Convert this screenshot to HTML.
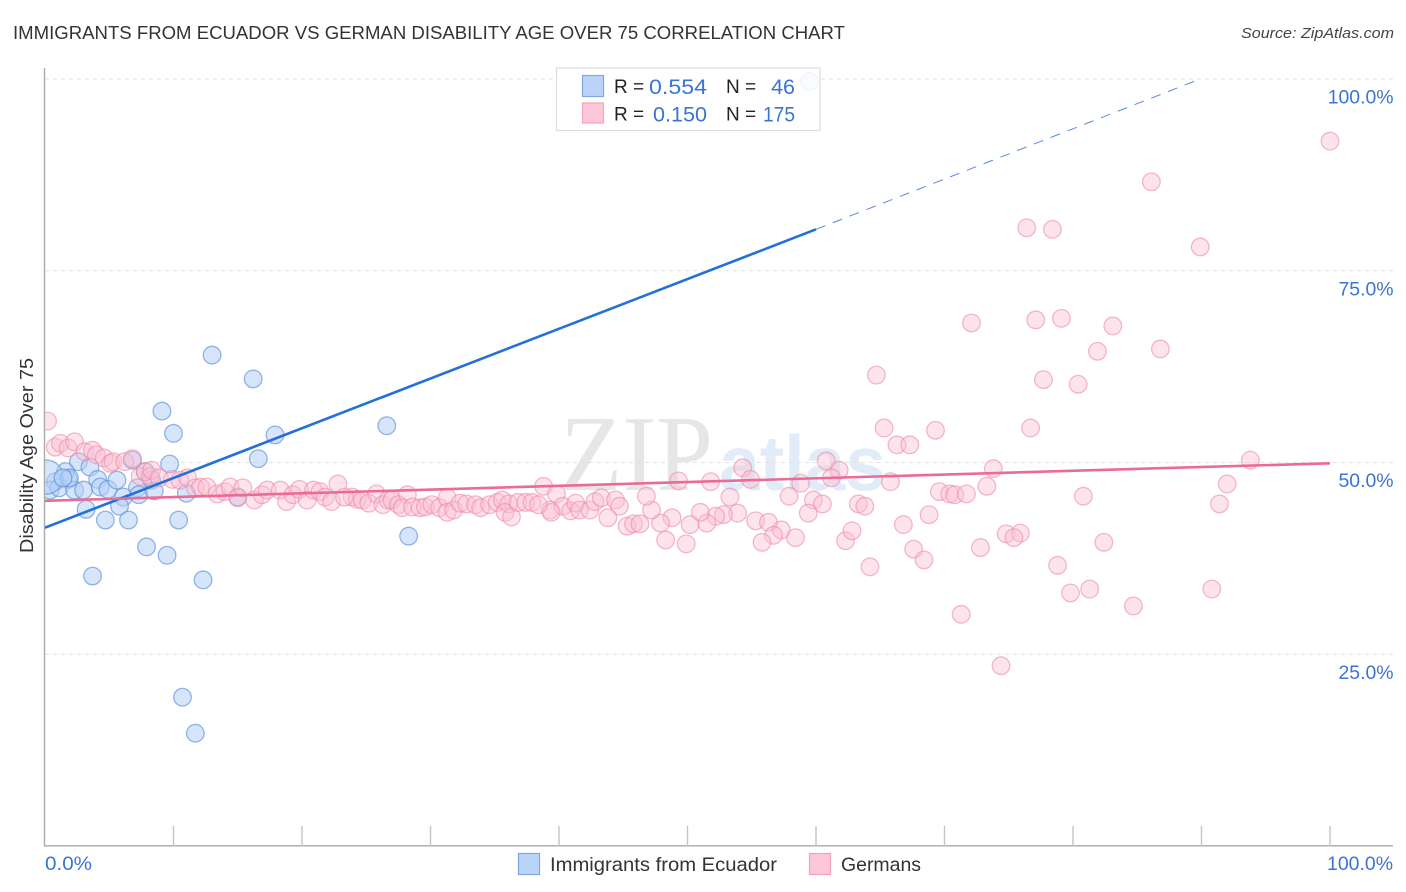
<!DOCTYPE html>
<html lang="en">
<head>
<meta charset="utf-8">
<title>Immigrants from Ecuador vs German Disability Age Over 75 Correlation Chart</title>
<style>
html,body{margin:0;padding:0;background:#fff;}
svg{display:block;font-family:"Liberation Sans",Arial,sans-serif;}
</style>
</head>
<body>
<svg id="chart" width="1406" height="892" viewBox="0 0 1406 892" xmlns="http://www.w3.org/2000/svg">
  <defs>
    <clipPath id="plot-clip"><rect x="45" y="60" width="1361" height="786"></rect></clipPath>
  </defs>
  <rect width="1406" height="892" fill="#fff"></rect>
  <text x="13" y="39" font-size="18.6" fill="#333" textLength="832" lengthAdjust="spacingAndGlyphs">IMMIGRANTS FROM ECUADOR VS GERMAN DISABILITY AGE OVER 75 CORRELATION CHART</text>
  <text x="1241" y="38" font-size="15" font-style="italic" fill="#444" textLength="153" lengthAdjust="spacingAndGlyphs">Source: ZipAtlas.com</text>
  <g>
    <text x="560" y="490" font-family="'Liberation Serif',serif" font-size="108" fill="#e6e6e6" textLength="153" lengthAdjust="spacingAndGlyphs">ZIP</text>
    <text x="719" y="490" font-size="78" font-weight="bold" fill="#e2ecf9" textLength="167" lengthAdjust="spacingAndGlyphs">atlas</text>
  </g>
  <g id="grid"></g>
  <g id="axes">
    <line x1="44.5" y1="68" x2="44.5" y2="846" stroke="#aaa" stroke-width="1.4"></line>
    <line x1="44" y1="845.8" x2="1393" y2="845.8" stroke="#aaa" stroke-width="1.4"></line>
  </g>
  <g id="x-ticks"></g>
  <g id="y-labels"></g>
  <text x="45" y="870" font-size="19" fill="#3b74d4" textLength="47" lengthAdjust="spacingAndGlyphs">0.0%</text>
  <text x="1327" y="870" font-size="19" fill="#3b74d4" textLength="66" lengthAdjust="spacingAndGlyphs">100.0%</text>
  <text transform="translate(33,553) rotate(-90)" font-size="18" fill="#333" textLength="195" lengthAdjust="spacingAndGlyphs">Disability Age Over 75</text>
  <g clip-path="url(#plot-clip)">
    <g id="blue-points"></g>
    <g id="pink-points"></g>
    <g id="trends"></g>
  </g>
  <g>
    <rect x="556.5" y="68" width="263.5" height="62.5" fill="#fff" fill-opacity="0.86" stroke="#ddd" stroke-width="1.2"></rect>
    <rect x="582.5" y="75.5" width="21" height="21" fill="#b9d4f8" stroke="#7fa9e4" stroke-width="1.2"></rect>
    <rect x="582.5" y="103" width="21" height="20" fill="#fcc7d8" stroke="#f3a5bf" stroke-width="1.2"></rect>
    <text x="614" y="93" font-size="19" fill="#222">R =</text>
    <text x="649" y="94" font-size="21.5" fill="#3b74d4" textLength="58" lengthAdjust="spacingAndGlyphs">0.554</text>
    <text x="726" y="93" font-size="19" fill="#222">N =</text>
    <text x="795" y="94" font-size="21.5" fill="#3b74d4" text-anchor="end">46</text>
    <text x="614" y="120.5" font-size="19" fill="#222">R =</text>
    <text x="653" y="121.5" font-size="21.5" fill="#3b74d4" textLength="54" lengthAdjust="spacingAndGlyphs">0.150</text>
    <text x="726" y="120.5" font-size="19" fill="#222">N =</text>
    <text x="763" y="121.5" font-size="21.5" fill="#3b74d4" textLength="32" lengthAdjust="spacingAndGlyphs">175</text>
  </g>
  <g>
    <rect x="518.5" y="853.5" width="21" height="21" fill="#b9d4f8" stroke="#7fa9e4" stroke-width="1.2"></rect>
    <text x="550" y="871" font-size="19.5" fill="#333" textLength="227" lengthAdjust="spacingAndGlyphs">Immigrants from Ecuador</text>
    <rect x="809.5" y="853.5" width="21" height="21" fill="#fcc7d8" stroke="#f3a5bf" stroke-width="1.2"></rect>
    <text x="841" y="871" font-size="19.5" fill="#333" textLength="80" lengthAdjust="spacingAndGlyphs">Germans</text>
  </g>
</svg>
<script>
const yTickValues = [100, 75, 50, 25];
const yTickLabels = ["100.0%", "75.0%", "50.0%", "25.0%"];
const xTickValues = [10, 20, 30, 40, 50, 60, 70, 80, 90, 100];

const ecuadorX = [59.5,13.0,16.2,9.1,10.0,17.9,26.6,16.6,9.7,6.8,2.6,3.5,1.6,1.8,0.8,0.4,1.1,2.3,3.0,4.1,4.3,4.9,5.6,6.1,7.2,7.3,7.8,8.3,8.5,11.0,15.0,3.2,4.7,5.8,6.5,10.4,7.9,9.5,3.7,12.3,28.3,10.7,11.7,0.1,1.9,1.4];
const ecuadorY = [99.7,64.0,60.9,56.7,53.8,53.6,54.8,50.5,49.8,50.3,50.1,49.4,48.8,47.8,47.5,46.4,46.7,46.4,46.4,47.8,46.8,46.5,47.7,45.5,46.7,45.8,48.8,47.7,46.3,46.0,45.5,43.9,42.5,44.3,42.5,42.5,39.0,37.9,35.2,34.7,40.4,19.4,14.7,48.1,48.0,48.0];
const ecuadorBigIndex = 43;

const germansX = [100,86.1,76.4,78.4,89.9,72.1,77.1,79.1,83.1,81.9,86.8,64.7,77.7,80.4,65.3,66.3,67.3,69.3,76.7,93.8,73.8,60.8,54.3,61.8,65.8,73.3,92.0,69.6,70.4,70.8,71.7,80.8,91.4,63.3,63.8,66.8,68.8,74.8,75.9,75.4,72.8,82.4,67.6,68.4,64.2,78.8,79.8,81.3,84.7,90.8,71.3,74.4,62.3,62.8,
61.2,54.9,51.8,49.3,58.8,57.9,59.8,60.5,59.4,55.3,56.3,57.3,56.7,58.4,55.8,53.3,53.9,52.8,52.2,51.5,51.0,50.2,48.8,47.9,47.2,46.8,48.3,49.9,
38.8,39.8,39.3,40.3,40.9,41.3,41.6,42.4,42.8,43.3,44.4,44.7,43.8,45.3,45.8,46.3,39.4,
23.9,24.3,24.7,25.2,25.8,26.3,26.7,27.0,27.5,28.2,27.8,28.6,29.2,29.6,30.1,30.7,31.3,31.3,31.8,32.3,32.8,33.5,33.9,34.6,35.2,35.6,36.1,35.8,36.3,36.8,37.4,37.9,38.4,
0.2,0.8,1.2,1.8,2.3,3.1,3.7,4.0,4.6,5.1,5.3,6.2,6.8,7.4,7.8,8.2,8.3,8.9,9.9,10.5,11.1,11.7,12.1,12.6,13.4,14.0,14.4,15.0,15.4,16.3,16.9,17.3,18.3,18.8,19.3,19.8,20.4,20.9,21.4,21.8,22.3,22.8,23.3];
const germansY = [91.9,86.6,80.6,80.4,78.1,68.2,68.6,68.8,67.8,64.5,64.8,61.4,60.8,60.2,54.5,52.3,52.3,54.2,54.5,50.3,49.2,50.2,49.3,49.0,47.5,46.9,47.2,46.2,45.9,45.8,45.9,45.6,44.6,44.6,44.3,41.9,43.2,40.7,40.8,40.2,38.9,39.6,38.7,37.3,36.4,36.6,33.0,33.5,31.3,33.5,30.2,23.5,39.8,41.1,
48.0,47.8,47.5,47.6,47.3,45.6,45.1,44.6,43.4,42.4,42.2,41.2,40.5,40.2,39.6,45.5,43.4,43.2,43.0,42.1,43.5,41.9,42.8,42.1,43.8,45.6,39.9,39.4,
46.9,45.9,43.8,44.3,43.7,44.7,43.8,43.8,44.9,45.4,45.1,44.3,42.8,41.7,42.0,42.0,43.5,
45.5,45.2,45.1,44.7,45.9,44.5,45.1,45.1,44.5,45.8,44.1,44.2,44.1,44.2,44.5,44.1,45.4,43.5,43.8,44.7,44.6,44.5,44.1,44.5,44.8,45.1,44.6,43.5,42.9,44.8,44.8,44.8,44.5,
55.4,52.0,52.5,51.9,52.7,51.4,51.6,51.0,50.6,49.9,50.1,50.1,50.5,48.2,48.8,48.2,49.0,48.0,47.8,47.7,48.0,46.7,46.8,46.8,45.9,46.2,46.8,45.4,46.7,45.1,45.8,46.4,46.4,44.9,45.8,46.5,45.1,46.4,46.2,45.5,44.9,47.2,45.5];

const ecuadorTrendX = [0, 60];
const ecuadorTrendY = [41.5, 80.4];
const ecuadorExtendX = [60, 89.9];
const ecuadorExtendY = [80.4, 100];
const germansTrendX = [0, 100];
const germansTrendY = [45.0, 49.9];

const SVG_NS = "http://www.w3.org/2000/svg";
const xScale = function (v) { return 45 + v * 12.85; };
const yScale = function (v) { return 846 - v * 7.67; };

function make(tag, parentId, attrs) {
  const el = document.createElementNS(SVG_NS, tag);
  Object.keys(attrs).forEach(function (k) { el.setAttribute(k, attrs[k]); });
  document.getElementById(parentId).appendChild(el);
  return el;
}

yTickValues.forEach(function (v, i) {
  const grid = make("line", "grid", { x1: 45, x2: 1393, y1: yScale(v), y2: yScale(v), stroke: "#e2e2e2", "stroke-width": 1, "stroke-dasharray": "4 4" });
  
  
  const label = make("text", "y-labels", { x: 1393.5, y: yScale(v) + 24.5, "font-size": 19.4, fill: "#3b74d4", "text-anchor": "end" });
  label.textContent = yTickLabels[i];
  
  
});

xTickValues.forEach(function (v) {
  const tick = make("line", "x-ticks", { x1: xScale(v), x2: xScale(v), y1: 826, y2: 846, stroke: "#c4c4c4", "stroke-width": 1.4 });
  
  
});

ecuadorX.forEach(function (v, i) {
  const dot = make("circle", "blue-points", { cx: xScale(v), cy: yScale(ecuadorY[i]), r: i === ecuadorBigIndex ? 17 : 8.8, fill: "#b4d0f5", "fill-opacity": 0.55, stroke: "#5a90dc", "stroke-opacity": 0.65, "stroke-width": 1.3 });
  
  
});

germansX.forEach(function (v, i) {
  const dot = make("circle", "pink-points", { cx: xScale(v), cy: yScale(germansY[i]), r: 8.8, fill: "#fbbed1", "fill-opacity": 0.42, stroke: "#ee8aaa", "stroke-opacity": 0.6, "stroke-width": 1.3 });
  
  
});

const blueExtend = make("line", "trends", { x1: xScale(ecuadorExtendX[0]), y1: yScale(ecuadorExtendY[0]), x2: xScale(ecuadorExtendX[1]), y2: yScale(ecuadorExtendY[1]), stroke: "#5a8bdc", "stroke-width": 1, "stroke-dasharray": "10 8" });


const blueTrend = make("line", "trends", { x1: xScale(ecuadorTrendX[0]), y1: yScale(ecuadorTrendY[0]), x2: xScale(ecuadorTrendX[1]), y2: yScale(ecuadorTrendY[1]), stroke: "#2470d8", "stroke-width": 2.6 });


const pinkTrend = make("line", "trends", { x1: xScale(germansTrendX[0]), y1: yScale(germansTrendY[0]), x2: xScale(germansTrendX[1]), y2: yScale(germansTrendY[1]), stroke: "#ea6a98", "stroke-width": 2.6 });


</script>
</body>
</html>
